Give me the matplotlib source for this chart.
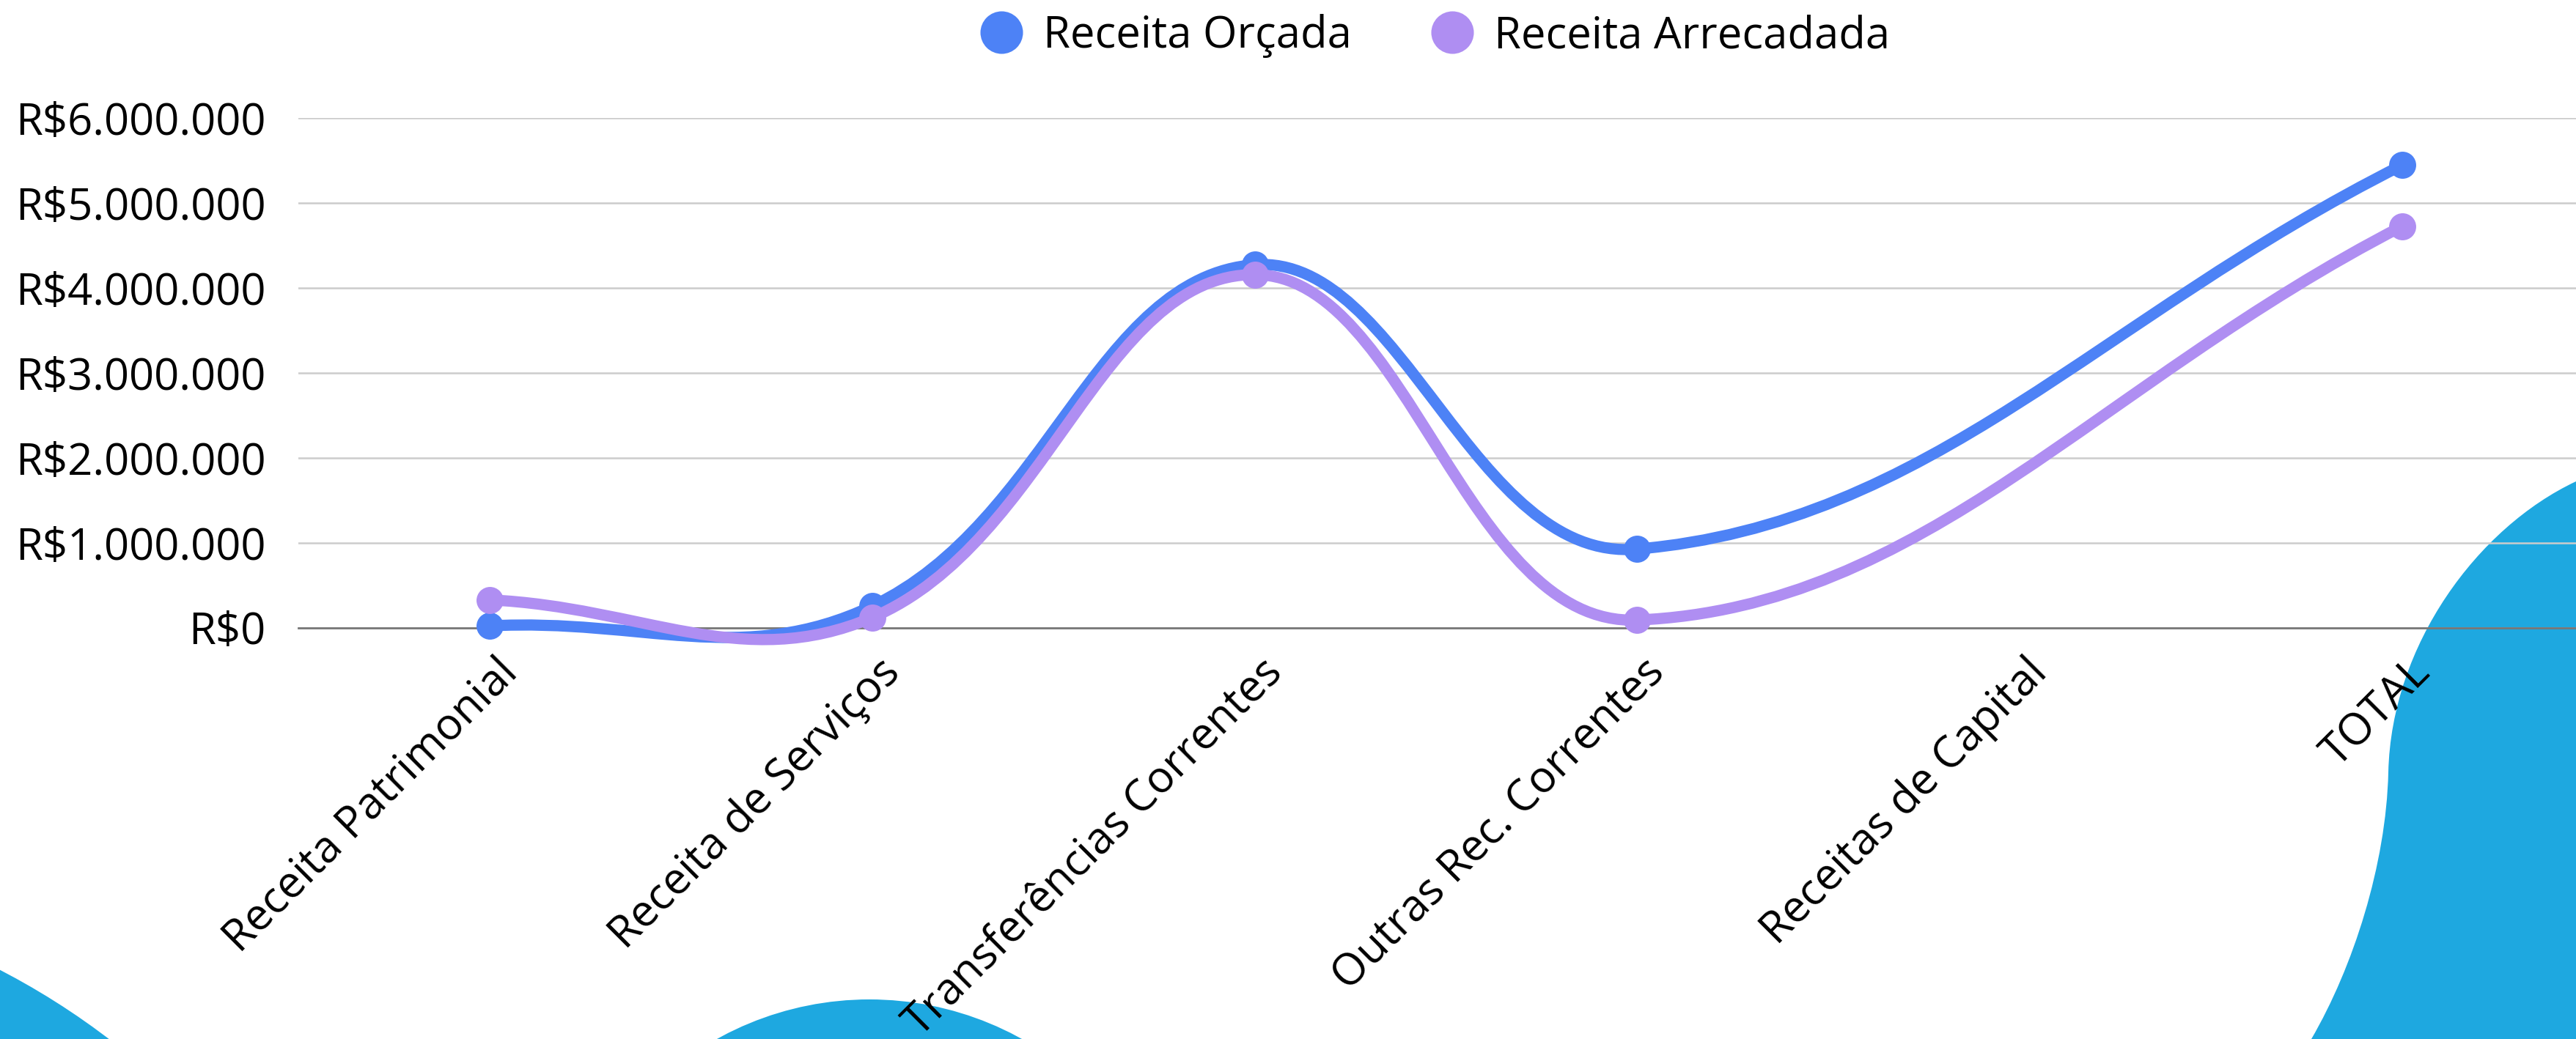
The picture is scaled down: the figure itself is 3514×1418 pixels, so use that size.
import numpy as np
import matplotlib
matplotlib.use('Agg')
import matplotlib.pyplot as plt
import matplotlib.transforms as mtransforms
from matplotlib.path import Path
from matplotlib.patches import PathPatch, Circle
from matplotlib.lines import Line2D
from matplotlib.ticker import FuncFormatter

plt.rcParams['font.family'] = ['Open Sans', 'DejaVu Sans']

# dados
categorias = ['Receita Patrimonial', 'Receita de Serviços', 'Transferências Correntes',
              'Outras Rec. Correntes', 'Receitas de Capital', 'TOTAL']
receita_orcada = [20000, 253000, 4270000, 924000, None, 5443000]
receita_arrecadada = [326000, 118000, 4154000, 89000, None, 4724000]
nomes_series = ['Receita Orçada', 'Receita Arrecadada']
cores_series = ['#4D82F6', '#AF8EF2']
ticks_y = [0, 1000000, 2000000, 3000000, 4000000, 5000000, 6000000]

W, H, DPI = 3514, 1418, 100
COR_FUNDO = '#1EA8E0'

fig = plt.figure(figsize=(W / DPI, H / DPI), dpi=DPI)
fig.patch.set_facecolor('white')
ident = mtransforms.IdentityTransform()

# formas decorativas (coordenadas em pixels, y para baixo)
fig.add_artist(Circle((-463, H - 2218), 1007, transform=ident, color=COR_FUNDO, lw=0, zorder=-5))
fig.add_artist(Circle((1186, H - 1792), 428, transform=ident, color=COR_FUNDO, lw=0, zorder=-5))
blob = [(3514, 657), (3380, 720), (3262, 880), (3258, 1054),
        (3255, 1180), (3210, 1320), (3153, 1418),
        (3120, 1480), (3600, 1480), (3600, 620), (3514, 657)]
codes = [Path.MOVETO, Path.CURVE4, Path.CURVE4, Path.CURVE4,
         Path.CURVE4, Path.CURVE4, Path.CURVE4,
         Path.LINETO, Path.LINETO, Path.LINETO, Path.CLOSEPOLY]
fig.add_artist(PathPatch(Path([(x, H - y) for x, y in blob], codes), transform=ident,
                         facecolor=COR_FUNDO, lw=0, zorder=-5))

# eixo
ax = fig.add_axes([407 / W, 1 - 856.5 / H, 3131 / W, (856.5 - 160.7) / H])
ax.set_facecolor('none')
ax.set_xlim(-0.5, 5.5)
ax.set_ylim(0, 6000000)
for s in ax.spines.values():
    s.set_visible(False)

ax.set_yticks(ticks_y)
ax.yaxis.set_major_formatter(FuncFormatter(lambda v, p: 'R$' + f'{v:,.0f}'.replace(',', '.')))
ax.yaxis.grid(True, color='#CCCCCC', lw=1.8)
ax.set_axisbelow(True)
ax.axhline(0, color='#777777', lw=2.0, zorder=1.5, clip_on=False)
ax.tick_params(axis='y', length=0, pad=32, labelsize=43, labelcolor='black')

ax.set_xticks(range(len(categorias)))
ax.set_xticklabels(categorias, rotation=45, ha='right', va='baseline', rotation_mode='anchor')
ax.tick_params(axis='x', length=0, pad=46, labelsize=43, labelcolor='black')
desloc = mtransforms.ScaledTranslation(0.40, 0, fig.dpi_scale_trans)
for lbl in ax.get_xticklabels():
    lbl.set_transform(lbl.get_transform() + desloc)


def curva_suave(xs, ys, tensao=0.4):
    # spline cúbica no estilo Chart.js (calculada em pixels)
    pts = ax.transData.transform(np.column_stack([xs, ys]))
    n = len(pts)
    cp_ant, cp_prox = [], []
    for i in range(n):
        ant = pts[max(i - 1, 0)]
        cur = pts[i]
        prox = pts[min(i + 1, n - 1)]
        d01 = np.hypot(*(cur - ant))
        d12 = np.hypot(*(prox - cur))
        tot = d01 + d12
        s01 = d01 / tot if tot else 0
        s12 = d12 / tot if tot else 0
        cp_ant.append(cur - tensao * s01 * (prox - ant))
        cp_prox.append(cur + tensao * s12 * (prox - ant))
    verts = [pts[0]]
    codes = [Path.MOVETO]
    for i in range(n - 1):
        verts += [cp_prox[i], cp_ant[i + 1], pts[i + 1]]
        codes += [Path.CURVE4] * 3
    verts = ax.transData.inverted().transform(np.array(verts))
    return Path(verts, codes)


for k, (serie, cor) in enumerate(zip([receita_orcada, receita_arrecadada], cores_series)):
    xs = [i for i, v in enumerate(serie) if v is not None]
    ys = [v for v in serie if v is not None]
    linha = PathPatch(curva_suave(xs, ys), fill=False, edgecolor=cor, lw=11,
                      capstyle='round', joinstyle='round', zorder=3 + k, clip_on=False)
    ax.add_patch(linha)
    ax.plot(xs, ys, 'o', color=cor, markersize=26.6, markeredgewidth=0,
            zorder=3 + k, clip_on=False)

handles = [Line2D([], [], marker='o', ls='', color=c, markersize=41.8, markeredgewidth=0)
           for c in cores_series]
fig.legend(handles, nomes_series, loc='center', bbox_to_anchor=(1957 / W, 1 - 49 / H),
           ncol=2, frameon=False, fontsize=43, handlelength=1.0, handletextpad=0.45,
           columnspacing=1.8, borderpad=0, borderaxespad=0)

fig.savefig('out.png', dpi=DPI, facecolor='white')
